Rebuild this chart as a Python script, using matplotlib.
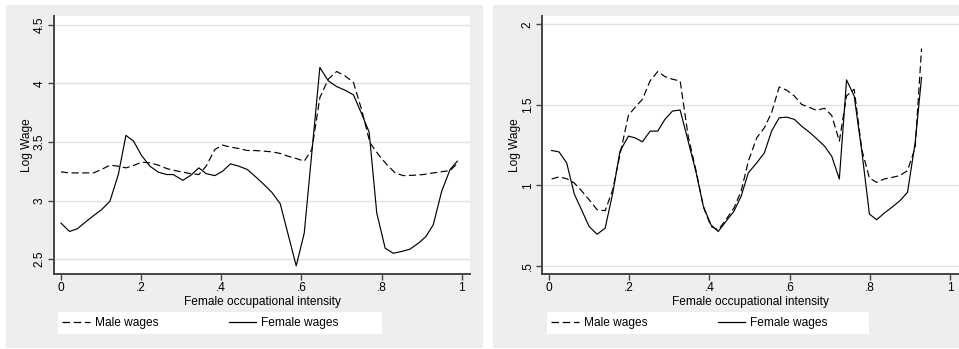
import matplotlib.pyplot as plt
from matplotlib.patches import Rectangle
from matplotlib.lines import Line2D

plt.rcParams['font.family'] = ['Liberation Sans', 'DejaVu Sans']

# Left panel data
left_female_x = [0.0, 0.021, 0.041, 0.06, 0.081, 0.101, 0.122, 0.143, 0.162, 0.181,
                 0.201, 0.222, 0.243, 0.264, 0.28, 0.304, 0.324, 0.344, 0.362, 0.384,
                 0.403, 0.423, 0.444, 0.465, 0.484, 0.505, 0.526, 0.547, 0.587, 0.607,
                 0.646, 0.667, 0.688, 0.709, 0.73, 0.749, 0.769, 0.788, 0.809, 0.829,
                 0.85, 0.871, 0.892, 0.911, 0.929, 0.95, 0.971, 0.989]
left_female_y = [2.808, 2.737, 2.760, 2.814, 2.871, 2.922, 2.994, 3.222, 3.556, 3.507,
                 3.384, 3.293, 3.242, 3.222, 3.222, 3.173, 3.216, 3.279, 3.230, 3.213,
                 3.250, 3.313, 3.293, 3.265, 3.208, 3.142, 3.071, 2.974, 2.443, 2.722,
                 4.135, 4.021, 3.972, 3.941, 3.901, 3.750, 3.584, 2.894, 2.594, 2.551,
                 2.566, 2.586, 2.637, 2.694, 2.794, 3.079, 3.265, 3.336]

left_male_x = [0.0, 0.021, 0.041, 0.06, 0.081, 0.101, 0.122, 0.143, 0.162, 0.181,
               0.201, 0.222, 0.243, 0.264, 0.28, 0.304, 0.324, 0.344, 0.362, 0.384,
               0.403, 0.423, 0.444, 0.465, 0.484, 0.505, 0.526, 0.547, 0.566, 0.587,
               0.607, 0.626, 0.646, 0.667, 0.688, 0.709, 0.73, 0.75, 0.771, 0.792,
               0.813, 0.834, 0.854, 0.879, 0.904, 0.929, 0.971, 0.992]
left_male_y = [3.245, 3.236, 3.236, 3.236, 3.236, 3.265, 3.302, 3.293, 3.279, 3.299,
               3.327, 3.322, 3.302, 3.273, 3.259, 3.242, 3.230, 3.222, 3.293, 3.436,
               3.473, 3.456, 3.444, 3.427, 3.427, 3.422, 3.416, 3.402, 3.379, 3.359,
               3.336, 3.436, 3.878, 4.035, 4.101, 4.063, 4.006, 3.778, 3.493, 3.393,
               3.307, 3.236, 3.213, 3.216, 3.222, 3.236, 3.256, 3.327]

# Right panel data
right_female_x = [0.0066, 0.025, 0.044, 0.063, 0.081, 0.1, 0.12, 0.14, 0.159, 0.177,
                  0.198, 0.214, 0.233, 0.252, 0.271, 0.289, 0.308, 0.327, 0.347, 0.367,
                  0.385, 0.404, 0.422, 0.441, 0.461, 0.479, 0.497, 0.518, 0.537, 0.555,
                  0.574, 0.593, 0.612, 0.63, 0.651, 0.667, 0.687, 0.705, 0.724, 0.742,
                  0.761, 0.78, 0.799, 0.817, 0.836, 0.856, 0.875, 0.894, 0.913, 0.929]
right_female_y = [1.217, 1.208, 1.140, 0.947, 0.849, 0.745, 0.697, 0.735, 0.953, 1.213,
                  1.306, 1.296, 1.271, 1.337, 1.337, 1.410, 1.462, 1.468, 1.275, 1.078,
                  0.870, 0.755, 0.714, 0.776, 0.839, 0.932, 1.078, 1.140, 1.202, 1.337,
                  1.420, 1.424, 1.410, 1.368, 1.327, 1.291, 1.244, 1.181, 1.040, 1.655,
                  1.555, 1.213, 0.822, 0.787, 0.828, 0.866, 0.905, 0.957, 1.264, 1.670]

right_male_x = right_female_x
right_male_y = [1.040, 1.053, 1.042, 1.015, 0.967, 0.911, 0.849, 0.843, 0.974, 1.192,
                1.435, 1.483, 1.535, 1.649, 1.707, 1.676, 1.659, 1.649, 1.306, 1.088,
                0.866, 0.745, 0.724, 0.787, 0.859, 0.963, 1.150, 1.296, 1.358, 1.451,
                1.611, 1.591, 1.555, 1.503, 1.483, 1.466, 1.479, 1.435, 1.275, 1.556,
                1.597, 1.223, 1.046, 1.019, 1.040, 1.050, 1.061, 1.092, 1.233, 1.850]

x_ticks = [0, 0.2, 0.4, 0.6, 0.8, 1.0]
x_ticklabels = ['0', '.2', '.4', '.6', '.8', '1']
left_yticks = [2.5, 3, 3.5, 4, 4.5]
left_yticklabels = ['2.5', '3', '3.5', '4', '4.5']
right_yticks = [0.5, 1, 1.5, 2]
right_yticklabels = ['.5', '1', '1.5', '2']

W, H = 959, 349
FS = 8.6
BG = '#EEEEEE'
AXC = '#444444'

fig = plt.figure(figsize=(W / 100, H / 100), dpi=100)
fig.patch.set_facecolor('white')


def px_rect(x0, y0, x1, y1):
    # pixel box (top-left origin) -> figure fraction
    return [x0 / W, 1 - y1 / H, (x1 - x0) / W, (y1 - y0) / H]


def panel(bg_box, ax_box, legend_box, xlim, ylim, yticks, yticklabels,
          xm, ym, xf, yf):
    bx = px_rect(*bg_box)
    fig.patches.append(Rectangle((bx[0], bx[1]), bx[2], bx[3], transform=fig.transFigure,
                                 facecolor=BG, edgecolor='none', zorder=-2))
    lb = px_rect(*legend_box)
    fig.patches.append(Rectangle((lb[0], lb[1]), lb[2], lb[3], transform=fig.transFigure,
                                 facecolor='white', edgecolor='none', zorder=-1))

    ax = fig.add_axes(px_rect(*ax_box))
    ax.set_facecolor('white')
    ax.plot(xm, ym, color='black', lw=0.85, linestyle=(0, (6, 3)))
    ax.plot(xf, yf, color='black', lw=0.85)
    ax.set_xlim(*xlim)
    ax.set_ylim(*ylim)
    ax.set_xticks(x_ticks)
    ax.set_xticklabels(x_ticklabels, fontsize=FS)
    ax.set_yticks(yticks)
    ax.set_yticklabels(yticklabels, fontsize=FS, rotation=90, va='center')
    ax.grid(axis='y', color='#E2E2E2', lw=1.0)
    ax.set_axisbelow(True)
    for s in ['top', 'right']:
        ax.spines[s].set_visible(False)
    for s in ['left', 'bottom']:
        ax.spines[s].set_color(AXC)
        ax.spines[s].set_linewidth(1.4)
    ax.tick_params(direction='out', length=4, width=1, color=AXC, pad=2)
    ax.set_xlabel('Female occupational intensity', fontsize=FS, labelpad=1)
    ax.set_ylabel('Log Wage', fontsize=FS)
    # right edge of the rotated label about 21 px left of the axis
    ax.yaxis.set_label_coords(-21 / (ax_box[2] - ax_box[0]), 0.5)

    handles = [Line2D([], [], color='black', lw=0.9, linestyle=(0, (6, 3))),
               Line2D([], [], color='black', lw=0.9)]
    fig.legend(handles, ['Male wages', 'Female wages'], ncol=2, frameon=False,
               fontsize=FS, handlelength=2.3, handletextpad=0.4, columnspacing=5.9,
               loc='center left', bbox_to_anchor=(lb[0] + 2 / W, lb[1] + lb[3] / 2),
               borderaxespad=0, borderpad=0.2)
    return ax


panel((6, 5, 483, 348), (54, 16, 470, 274), (58, 312, 382, 334),
      (-0.0175, 1.0207), (2.374, 4.574), left_yticks, left_yticklabels,
      left_male_x, left_male_y, left_female_x, left_female_y)
panel((493, 5, 959, 348), (542, 16, 959, 274), (547, 312, 869, 334),
      (-0.0175, 1.0224), (0.45, 2.052), right_yticks, right_yticklabels,
      right_male_x, right_male_y, right_female_x, right_female_y)

fig.savefig('out.png', dpi=100)
